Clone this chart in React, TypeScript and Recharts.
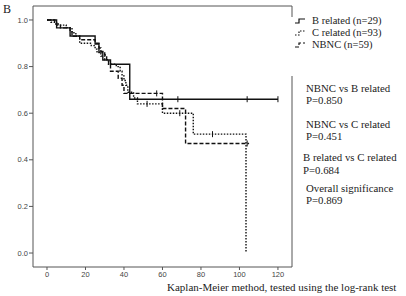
import React from "react";
import { LineChart, Line, XAxis, YAxis, ReferenceLine } from "recharts";

// B related (n=29) – solid
const bTimes = [0, 5, 12, 25, 27, 29, 33, 43, 68, 104, 120];
const bSurv = [1.0, 0.966, 0.931, 0.897, 0.862, 0.828, 0.81, 0.66, 0.66, 0.66, 0.66];
const bCens = [0, 0, 0, 0, 0, 0, 0, 0, 1, 1, 1];

// C related (n=93) – dotted
const cTimes = [0, 2, 5, 10, 13, 15, 17, 23, 25, 26, 28, 30, 32, 36, 38, 39, 40, 41, 42, 45, 47, 52, 60, 69, 76, 86, 103.4];
const cSurv = [1.0, 0.99, 0.978, 0.967, 0.945, 0.93, 0.9, 0.89, 0.875, 0.86, 0.845, 0.83, 0.81, 0.8, 0.78, 0.76, 0.74, 0.72, 0.69, 0.665, 0.64, 0.64, 0.6, 0.6, 0.51, 0.51, 0.0];
const cCens = [0, 0, 0, 0, 0, 0, 0, 0, 0, 0, 0, 0, 0, 0, 0, 0, 0, 0, 0, 0, 0, 1, 0, 1, 0, 1, 0];

// NBNC (n=59) – dashed
const nTimes = [0, 4, 7, 12, 13, 17, 25, 27, 28, 30, 31, 32, 33, 37, 39, 40, 57, 60, 72, 104, 105];
const nSurv = [1.0, 0.983, 0.966, 0.95, 0.93, 0.915, 0.9, 0.88, 0.865, 0.85, 0.83, 0.81, 0.78, 0.75, 0.72, 0.685, 0.685, 0.62, 0.47, 0.47, 0.47];
const nCens = [0, 0, 0, 0, 0, 0, 0, 0, 0, 0, 0, 0, 0, 0, 0, 0, 1, 0, 0, 1, 0];

const xTicks = [0, 20, 40, 60, 80, 100, 120];
const yTicks = [0, 0.2, 0.4, 0.6, 0.8, 1.0];

const legendLabels = ["B related (n=29)", "C related (n=93)", "NBNC (n=59)"];
const statLines = [
  "NBNC vs B related",
  "P=0.850",
  "NBNC vs C related",
  "P=0.451",
  "B related vs C related",
  "P=0.684",
  "Overall significance",
  "P=0.869",
];

const build = (t: number[], s: number[], c: number[]) =>
  t.map((tt, i) => ({ t: tt, s: s[i], c: c[i] }));

const bData = build(bTimes, bSurv, bCens);
const cData = build(cTimes, cSurv, cCens);
const nData = build(nTimes, nSurv, nCens);

const censorDot = (props: any) => {
  const { cx, cy, payload, index } = props;
  if (!payload || !payload.c) return <g key={"d" + index} />;
  return (
    <line key={"d" + index} x1={cx} x2={cx} y1={cy - 3} y2={cy + 3} stroke="#111" strokeWidth={1} />
  );
};

const serif = "'Liberation Serif', 'DejaVu Serif', serif";
const sans = "'Liberation Sans', Arial, sans-serif";

export default function App() {
  const statPos = [
    [306, 92],
    [306, 104],
    [306, 128],
    [306, 140],
    [303, 161],
    [303, 174],
    [306, 192],
    [306, 204],
  ];
  const legendY = [24, 36, 48];
  const dashes = ["", "1.5 1.5", "4 2"];
  return (
    <div style={{ position: "absolute", left: 0, top: 0, width: 406, height: 296, background: "#fff" }}>
      <LineChart width={406} height={296} margin={{ top: 6, right: 114, bottom: 0, left: 0 }}>
        <XAxis
          type="number"
          dataKey="t"
          domain={[-7.27, 127.3]}
          allowDataOverflow
          ticks={xTicks}
          height={29}
          tickSize={3}
          tickMargin={2}
          stroke="#555"
          tick={{ fontSize: 7.5, fill: "#444", fontFamily: sans }}
        />
        <YAxis
          type="number"
          dataKey="s"
          domain={[-0.06, 1.06]}
          allowDataOverflow
          ticks={yTicks}
          width={33}
          tickSize={4}
          tickMargin={1}
          stroke="#555"
          tickFormatter={(v: number) => v.toFixed(1)}
          tick={{ fontSize: 7.5, fill: "#444", fontFamily: sans }}
        />
        <ReferenceLine y={1.06} stroke="#555" ifOverflow="visible" />
        <ReferenceLine x={127.3} stroke="#555" ifOverflow="visible" />
        <Line data={bData} dataKey="s" type="stepAfter" stroke="#111" strokeWidth={1.4} dot={censorDot} activeDot={false} isAnimationActive={false} />
        <Line data={cData} dataKey="s" type="stepAfter" stroke="#111" strokeWidth={1.4} strokeDasharray="1.5 1.5" dot={censorDot} activeDot={false} isAnimationActive={false} />
        <Line data={nData} dataKey="s" type="stepAfter" stroke="#111" strokeWidth={1.4} strokeDasharray="4 2" dot={censorDot} activeDot={false} isAnimationActive={false} />
      </LineChart>
      <svg width={406} height={296} style={{ position: "absolute", left: 0, top: 0, pointerEvents: "none" }}>
        <rect x={289} y={17} width={117} height={59} fill="#fff" />
        <text x={3} y={13} fontSize={12} fontFamily={serif} fill="#222">B</text>
        {legendLabels.map((l, i) => (
          <g key={l}>
            <path
              d={`M295,${legendY[i] - 1} H299 V${legendY[i] - 5} H305`}
              fill="none"
              stroke="#111"
              strokeWidth={1.2}
              strokeDasharray={dashes[i] || undefined}
            />
            <text x={312} y={legendY[i]} fontSize={10.5} fontFamily={serif} fill="#222">{l}</text>
          </g>
        ))}
        {statLines.map((l, i) => (
          <text key={l} x={statPos[i][0]} y={statPos[i][1]} fontSize={10.8} fontFamily={serif} fill="#222">{l}</text>
        ))}
        <text x={167} y={291} fontSize={11} fontFamily={serif} fill="#222">Kaplan-Meier method, tested using the log-rank test</text>
      </svg>
    </div>
  );
}
